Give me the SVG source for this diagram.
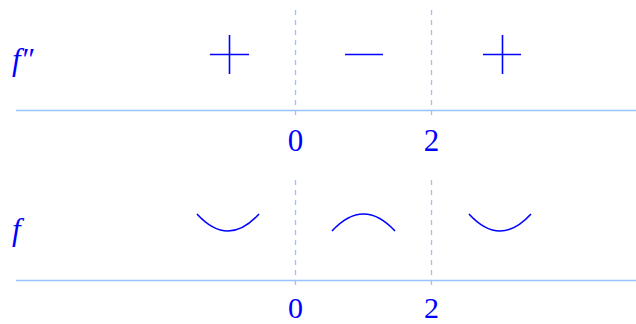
<svg xmlns="http://www.w3.org/2000/svg" width="636" height="324" viewBox="0 0 636 324">
<style>
.axis{stroke:#99c2ff;stroke-width:1.3;fill:none}
.dash{stroke:#99c2ff;stroke-width:1.3;stroke-dasharray:5,5;fill:none}
.sym{stroke:#0000ff;stroke-width:1.6;fill:none}
.lbl{font-family:"Liberation Serif","DejaVu Serif","Times New Roman",serif;font-size:31px;fill:#0000ff}
.it{font-style:italic}
.low{font-size:30px}
</style>
<rect width="636" height="324" fill="#fff"/>
<g id="connectors">
<line class="axis" x1="16" y1="110.5" x2="636" y2="110.5"/>
<line class="dash" x1="295.5" y1="10" x2="295.5" y2="118"/>
<line class="dash" x1="431.5" y1="10" x2="431.5" y2="118"/>
<line class="axis" x1="16" y1="280.5" x2="636" y2="280.5"/>
<line class="dash" x1="295.5" y1="180" x2="295.5" y2="288"/>
<line class="dash" x1="431.5" y1="180" x2="431.5" y2="288"/>
</g>
<g id="row1-label"><text class="lbl it" x="12" y="70">f″</text></g>
<g id="plus1"><path class="sym" d="M210 54.5H249M229.5 35V74"/></g>
<g id="minus"><path class="sym" d="M345 54.5H383"/></g>
<g id="plus2"><path class="sym" d="M483 54.5H521M502.5 35V74"/></g>
<g id="x0a"><text class="lbl" x="295.5" y="151" text-anchor="middle">0</text></g>
<g id="x2a"><text class="lbl" x="431.5" y="151" text-anchor="middle">2</text></g>
<g id="row2-label"><text class="lbl it" x="12" y="240">f</text></g>
<g id="cup1"><path class="sym" d="M197 214Q228 248 259 214"/></g>
<g id="cap"><path class="sym" d="M332 231Q363.5 197 395 231"/></g>
<g id="cup2"><path class="sym" d="M469 214Q500 248 531 214"/></g>
<g id="x0b"><text class="lbl low" x="295.5" y="317.5" text-anchor="middle">0</text></g>
<g id="x2b"><text class="lbl low" x="431.5" y="317.5" text-anchor="middle">2</text></g>
</svg>
